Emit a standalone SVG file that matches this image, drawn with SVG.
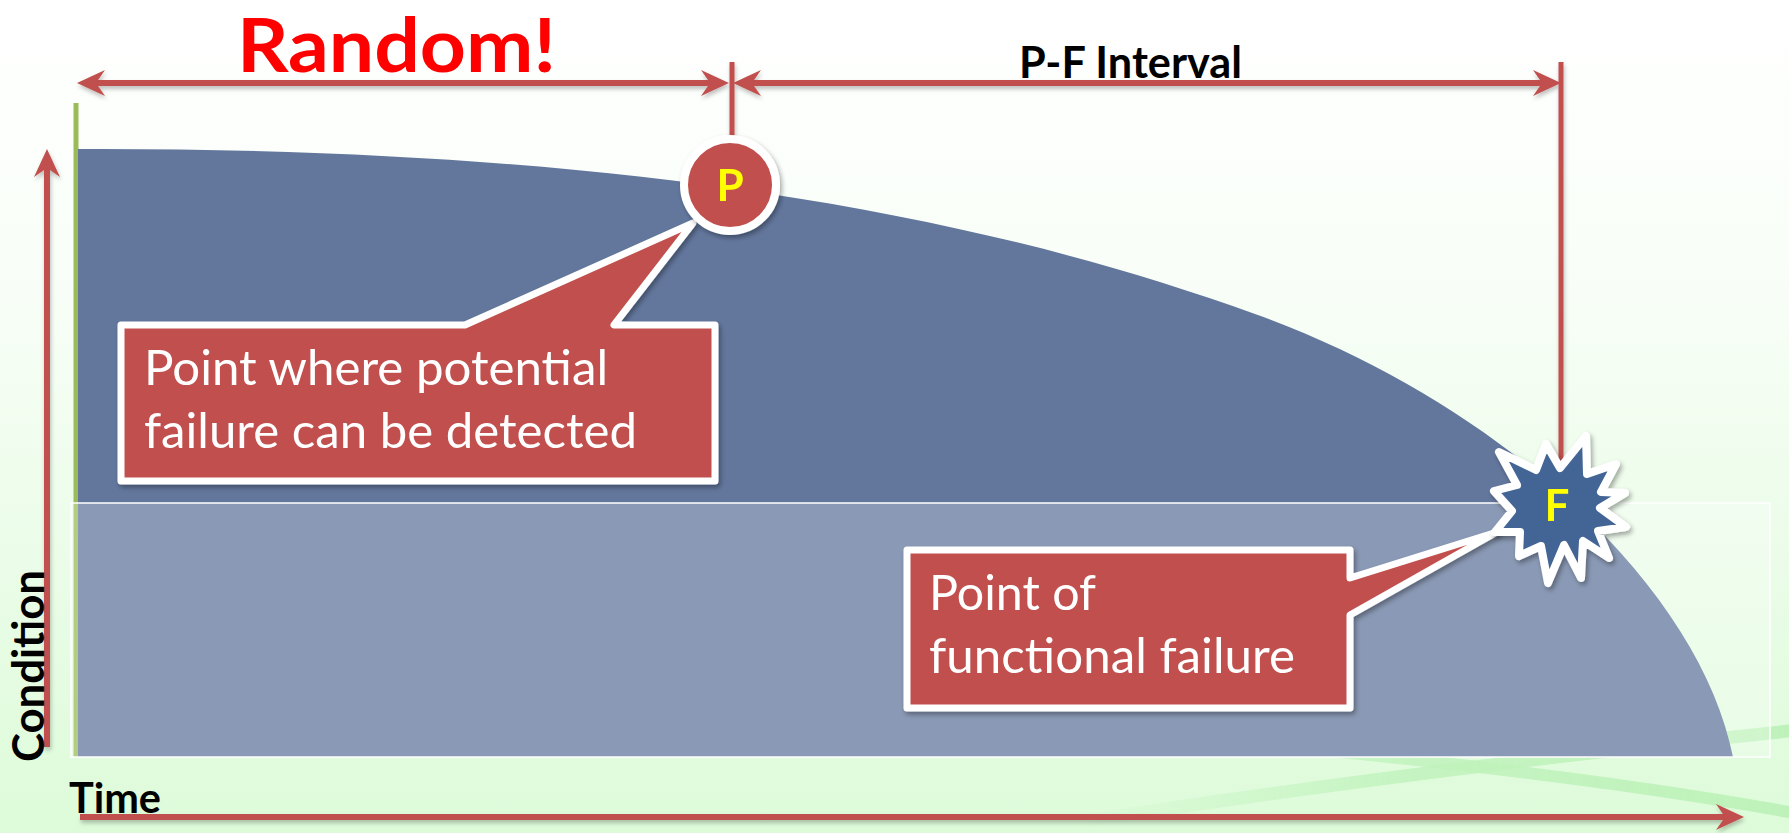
<svg xmlns="http://www.w3.org/2000/svg" width="1789" height="833" viewBox="0 0 1789 833">
  <defs>
    <linearGradient id="bg" x1="0" y1="0" x2="0" y2="1">
      <stop offset="0" stop-color="#FFFFFF"/>
      <stop offset="0.35" stop-color="#F8FEF7"/>
      <stop offset="1" stop-color="#DDFBD9"/>
    </linearGradient>
    <linearGradient id="swooshFade" x1="1080" y1="0" x2="1789" y2="0" gradientUnits="userSpaceOnUse">
      <stop offset="0" stop-color="#B4EFB0" stop-opacity="0"/>
      <stop offset="0.45" stop-color="#B4EFB0" stop-opacity="0.8"/>
      <stop offset="1" stop-color="#B4EFB0" stop-opacity="1"/>
    </linearGradient>
    <filter id="shadow" x="-10%" y="-10%" width="130%" height="140%">
      <feDropShadow dx="2" dy="3" stdDeviation="2.5" flood-color="#000" flood-opacity="0.35"/>
    </filter>
    <filter id="lineShadow" x="-5%" y="-50%" width="110%" height="200%">
      <feDropShadow dx="1" dy="3" stdDeviation="2" flood-color="#000" flood-opacity="0.25"/>
    </filter>
    <marker id="head" viewBox="-15 -15 35 30" refX="0" refY="0" markerWidth="35" markerHeight="30" markerUnits="userSpaceOnUse" orient="auto-start-reverse">
      <path d="M17,0 L-11,-13 L-2,0 L-11,13 Z" fill="#C0504D"/>
    </marker>
    <style>
      .red { stroke: #C0504D; fill: none; }
      .axis { stroke: #9BBB59; fill: none; }
      .label { font-family: Lato, "Open Sans", "Liberation Sans", sans-serif; font-weight: 700; fill: #000; }
      .note { font-family: Lato, "Open Sans", "Liberation Sans", sans-serif; font-size: 49px; fill: #FFFFFF; }
      .callout { fill: #C0504D; stroke: #FFFFFF; stroke-width: 7; stroke-linejoin: round; }
      .mark { font-family: Lato, "Open Sans", "Liberation Sans", sans-serif; font-weight: 700; font-size: 44px; fill: #FFFF00; text-anchor: middle; }
    </style>
  </defs>

  <!-- background -->
  <rect x="0" y="0" width="1789" height="833" fill="url(#bg)"/>
  <g id="swooshes" fill="none" stroke="url(#swooshFade)" stroke-linecap="round" opacity="0.75">
    <path d="M1080,822 Q1400,772 1789,731" stroke-width="13"/>
    <path d="M1340,752 Q1600,778 1789,812" stroke-width="12"/>
  </g>

  <!-- condition curve and functional-failure band -->
  <g id="chart">
    <path d="M76,103 L76,757" class="axis" stroke-width="5"/>
    <path d="M78,149 C650,147 1000,222 1255,314 C1505,404 1700,590 1733,757 L78,757 Z" fill="#63779D"/>
    <rect x="71" y="503" width="1699" height="254" fill="#FFFFFF" fill-opacity="0.25" stroke="#FFFFFF" stroke-width="1.5"/>
    <path d="M72,759 L1783,759" class="axis" stroke-width="5" filter="url(#lineShadow)"/>
  </g>

  <!-- dimension arrows and axes -->
  <g id="connectors" filter="url(#lineShadow)">
    <path d="M732,62 L732,140" class="red" stroke-width="5"/>
    <path d="M1561,62 L1561,470" class="red" stroke-width="5"/>
    <path d="M94,83 L712,83" class="red" stroke-width="6" marker-start="url(#head)" marker-end="url(#head)"/>
    <path d="M750,83 L1544,83" class="red" stroke-width="6" marker-start="url(#head)" marker-end="url(#head)"/>
    <path d="M47,747 L47,166" class="red" stroke-width="6" marker-end="url(#head)"/>
    <path d="M80,817 L1727,817" class="red" stroke-width="6" marker-end="url(#head)"/>
  </g>

  <!-- titles and axis labels -->
  <g id="titles">
    <text x="237" y="72" class="label" font-size="74" style="fill:#FF0000" textLength="319" lengthAdjust="spacingAndGlyphs">Random!</text>
    <text x="1019" y="78" class="label" font-size="43" textLength="223" lengthAdjust="spacingAndGlyphs">P-F Interval</text>
    <text transform="translate(44,762) rotate(-90)" x="0" y="0" class="label" font-size="43" textLength="192" lengthAdjust="spacingAndGlyphs">Condition</text>
    <text x="69" y="813" class="label" font-size="42" textLength="92" lengthAdjust="spacingAndGlyphs">Time</text>
  </g>

  <!-- callout for the potential failure point -->
  <g id="callout-p" filter="url(#shadow)">
    <path d="M121,325 L465,325 L693,223 L614,325 L715,325 L715,481 L121,481 Z" class="callout"/>
    <text x="144" y="385" class="note" textLength="464" lengthAdjust="spacingAndGlyphs">Point where potential</text>
    <text x="144" y="448" class="note" textLength="493" lengthAdjust="spacingAndGlyphs">failure can be detected</text>
  </g>

  <!-- callout for the functional failure point -->
  <g id="callout-f" filter="url(#shadow)">
    <path d="M907,550 L1350,550 L1350,578 L1497,532 L1350,615 L1350,708 L907,708 Z" class="callout"/>
    <text x="929" y="610" class="note" textLength="167" lengthAdjust="spacingAndGlyphs">Point of</text>
    <text x="929" y="673" class="note" textLength="366" lengthAdjust="spacingAndGlyphs">functional failure</text>
  </g>

  <!-- P marker -->
  <g id="node-p" filter="url(#shadow)">
    <circle cx="730" cy="185" r="46" fill="#C0504D" stroke="#FFFFFF" stroke-width="8"/>
    <text x="730" y="201" class="mark">P</text>
  </g>

  <!-- F marker -->
  <g id="node-f" filter="url(#shadow)">
    <polygon points="1499,452 1536,470 1546,444 1560,468 1586,436 1587,474 1616,464 1601,492 1625,493 1600,508 1626,527 1598,531 1609,558 1583,541 1581,578 1564,545 1548,583 1541,546 1519,556 1520,532 1495,532 1512,511 1494,491 1517,485" fill="#426596" stroke="#FFFFFF" stroke-width="8" stroke-linejoin="round"/>
    <text x="1557" y="521" class="mark">F</text>
  </g>
</svg>
